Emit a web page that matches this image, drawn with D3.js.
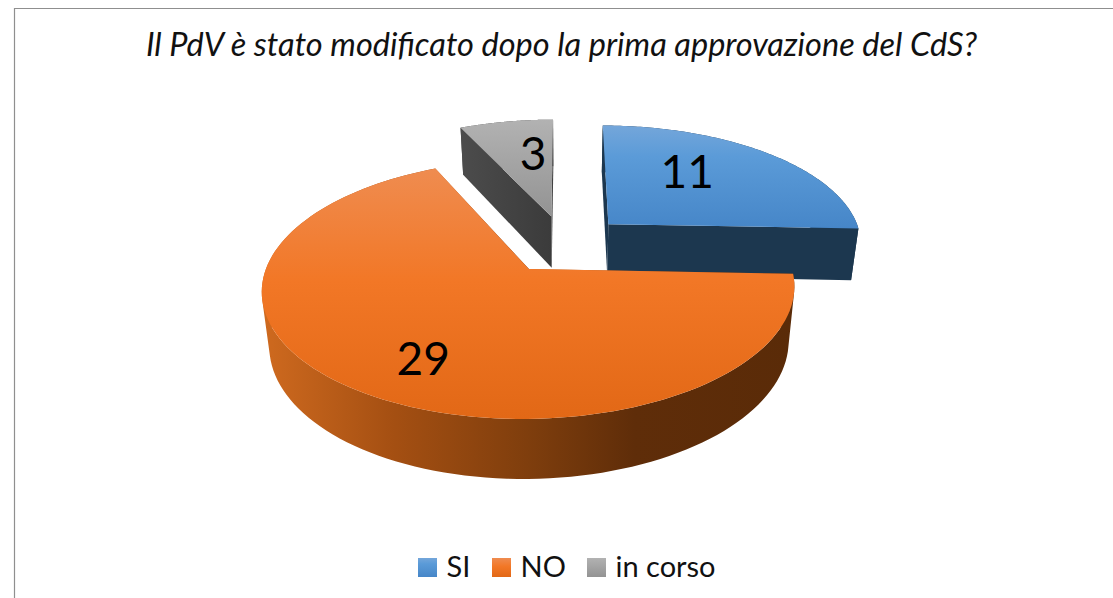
<!DOCTYPE html>
<html>
<head>
<meta charset="utf-8">
<script src="https://cdn.jsdelivr.net/npm/d3@7"></script>
<style>
  html, body { margin: 0; padding: 0; background: #fff; }
  svg { display: block; font-family: Lato, "Open Sans", sans-serif; }
</style>
</head>
<body>
<svg id="chart" width="1113" height="598"></svg>
<script>
const titleText = "Il PdV è stato modificato dopo la prima approvazione del CdS?";
const categories = ["SI", "NO", "in corso"];
const values = [11, 29, 3];

const topStops = [
  [[0, "#74a6da"], [0.3, "#5b9bd8"], [1, "#4686c8"]],
  [[0, "#ef8c50"], [0.45, "#f27726"], [1, "#e26816"]],
  [[0, "#b2b2b2"], [1, "#939393"]],
];
const wallStops = [
  [[0, "#1c374f"], [1, "#1c374f"]],
  [[0, "#cf6a1f"], [0.25, "#a44f12"], [0.5, "#7f3e0d"], [0.7, "#5f2d09"], [1, "#5a2b08"]],
  [[0, "#4c4c4c"], [1, "#3b3b3b"]],
];

const width = 1113;
const height = 598;
const svg = d3.select("#chart");
const defs = svg.append("defs");

// tilted disc with perspective, unit disc coords -> screen
const cx = 564.5, y0 = 244, rx = 255, ry = 119, persp = 0.15;
const depth = 52.5, depthPersp = 0.104, shrink = 0.975;
const explode = 0.245;
const labelPos = [
  { r: 0.61, shift: -10.7 },
  { r: 0.725, shift: -4.7 },
  { r: 0.63, shift: 4.7 },
];

const projectTop = ([u, v]) => {
  const w = 1 + persp * v;
  return [cx + (rx * u) / w, y0 - (ry * v) / w];
};
const projectBottom = ([u, v]) => {
  const [x, y] = projectTop([u, v]);
  return [cx + (x - cx) * shrink, y + depth / (1 + depthPersp * v)];
};

const slices = d3.pie().sort(null).startAngle(0).endAngle(2 * Math.PI)(values);
const line = d3.line();

function addGradient(id, stops, attrs) {
  const el = defs.append("linearGradient").attr("id", id);
  Object.entries(attrs).forEach(([k, v]) => el.attr(k, v));
  stops.forEach(([o, c]) => el.append("stop").attr("offset", o).attr("stop-color", c));
}

categories.forEach((c, i) => {
  addGradient(`top-${i}`, topStops[i], { x1: 0, y1: 0, x2: 0, y2: 1 });
  addGradient(`wall-${i}`, wallStops[i], { x1: 0, y1: 0, x2: 1, y2: 0 });
});

const pointAt = (d, a, r) => {
  const mid = (d.startAngle + d.endAngle) / 2;
  return [
    explode * Math.sin(mid) + r * Math.sin(a),
    explode * Math.cos(mid) + r * Math.cos(a),
  ];
};
const arcPoints = (d) =>
  d3.range(0, 121).map((k) => pointAt(d, d.startAngle + ((d.endAngle - d.startAngle) * k) / 120, 1));

// all quads wound the same way so front and back of the rim don't cancel out
const wallPath = (rim) =>
  d3.pairs(rim)
    .map(([a, b]) => {
      const quad = [projectTop(a), projectTop(b), projectBottom(b), projectBottom(a)];
      if (d3.polygonArea(quad) < 0) quad.reverse();
      return line(quad) + "Z";
    })
    .join("");

const drawOrder = [2, 0, 1];

// frame
svg.append("path")
  .attr("d", line([[14.5, 598], [14.5, 8.5], [width, 8.5]]))
  .attr("fill", "none")
  .attr("stroke", "#8f8f8f")
  .attr("stroke-width", 1.2);

svg.append("text")
  .attr("x", 561.5)
  .attr("y", 56)
  .attr("text-anchor", "middle")
  .attr("font-size", 32.5)
  .attr("font-style", "italic")
  .attr("fill", "#111")
  .text(titleText);

const pie = svg.append("g");

drawOrder.forEach((i) => {
  const d = slices[i];
  const rim = arcPoints(d);
  const apex = pointAt(d, 0, 0);
  const g = pie.append("g").attr("class", `slice-${i}`);

  // outer wall
  g.append("path")
    .attr("d", wallPath(rim))
    .attr("fill", `url(#wall-${i})`);

  // cut faces
  [rim[0], rim[rim.length - 1]].forEach((edge) => {
    g.append("path")
      .attr("d", line([apex, edge].map(projectTop).concat([edge, apex].map(projectBottom))) + "Z")
      .attr("fill", `url(#wall-${i})`);
  });

  // top face
  g.append("path")
    .attr("d", line([apex, ...rim].map(projectTop)) + "Z")
    .attr("fill", `url(#top-${i})`);
});

// data labels
slices.forEach((d, i) => {
  const mid = (d.startAngle + d.endAngle) / 2 + (labelPos[i].shift * Math.PI) / 180;
  const [x, y] = projectTop(pointAt(d, mid, labelPos[i].r));
  svg.append("text")
    .attr("x", x)
    .attr("y", y)
    .attr("dy", "0.36em")
    .attr("text-anchor", "middle")
    .attr("font-size", 46)
    .attr("fill", "#000")
    .text(values[i]);
});

// legend
const legendX = d3.scaleOrdinal().domain(categories).range([418, 492, 587]);
const legend = svg.append("g")
  .selectAll("g")
  .data(categories)
  .join("g")
  .attr("transform", (c) => `translate(${legendX(c)},558)`);

legend.append("rect")
  .attr("width", 19)
  .attr("height", 19)
  .attr("fill", (c, i) => `url(#top-${i})`);

legend.append("text")
  .attr("x", 28.5)
  .attr("y", 19)
  .attr("font-size", 29)
  .attr("fill", "#111")
  .text((c) => c);
</script>
</body>
</html>
